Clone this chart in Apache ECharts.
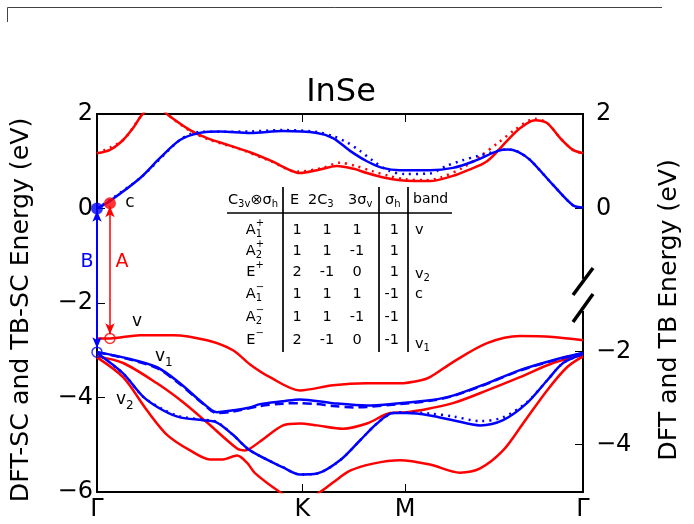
<!DOCTYPE html>
<html><head><meta charset="utf-8">
<script src="https://cdn.jsdelivr.net/npm/echarts@6/dist/echarts.min.js"></script>
<style>html,body{margin:0;padding:0;background:#fff}#c{width:694px;height:524px}</style>
</head><body><div id="c"></div>
<script>
// ---------- data ----------
const kPath = [0, 1, 1.5, 2.366];
const kLabels = ['Γ', 'K', 'M', 'Γ'];
const yLeftTicks = [2, 0, -2, -4, -6];
const yRightTickPos = [2, 0, -3.03, -4.99];
const yRightLabels = ['2', '0', '−2', '−4'];

// conduction bands
const redC = [[0,1.17],[0.063,1.24],[0.127,1.45],[0.175,1.70],[0.219,1.98],[0.28,2.22],[0.346,1.98],[0.453,1.66],[0.536,1.49],[0.648,1.33],[0.745,1.19],[0.857,0.99],[0.906,0.88],[0.988,0.75],[1.071,0.81],[1.168,0.90],[1.25,0.84],[1.314,0.75],[1.40,0.65],[1.475,0.60],[1.621,0.58],[1.733,0.69],[1.80,0.80],[1.899,1.0],[1.996,1.43],[2.059,1.70],[2.132,1.87],[2.191,1.81],[2.255,1.49],[2.317,1.24],[2.366,1.17]];
const redCdot = [[0,1.17],[0.127,1.45],[0.219,1.98],[0.28,2.22],[0.346,1.98],[0.453,1.64],[0.55,1.45],[0.70,1.25],[0.857,0.98],[0.97,0.78],[1.1,0.86],[1.18,0.97],[1.26,0.90],[1.34,0.79],[1.42,0.69],[1.5,0.62],[1.6,0.60],[1.67,0.65],[1.78,0.86],[1.87,1.12],[1.95,1.38],[2.03,1.65],[2.132,1.90],[2.191,1.81],[2.255,1.49],[2.317,1.24],[2.366,1.17]];
const blueC = [[0,0],[0.063,0.16],[0.209,0.64],[0.307,1.07],[0.404,1.45],[0.50,1.60],[0.60,1.63],[0.745,1.60],[0.906,1.64],[1.071,1.60],[1.149,1.49],[1.232,1.22],[1.314,1.0],[1.39,0.86],[1.475,0.81],[1.621,0.81],[1.733,0.86],[1.835,1.0],[1.952,1.22],[2.0,1.25],[2.05,1.20],[2.108,1.03],[2.22,0.50],[2.317,0.07],[2.366,0.02]];
const blueCdot = [[0,0],[0.209,0.64],[0.404,1.45],[0.50,1.62],[0.745,1.63],[0.906,1.66],[1.071,1.62],[1.149,1.53],[1.217,1.40],[1.28,1.22],[1.34,1.02],[1.42,0.80],[1.50,0.73],[1.62,0.74],[1.70,0.90],[1.78,1.02],[1.86,1.12],[1.952,1.22],[2.0,1.25],[2.05,1.20],[2.108,1.03],[2.22,0.50],[2.317,0.07],[2.366,0.02]];

// valence bands
const redV = [[0,-2.75],[0.063,-2.75],[0.209,-2.68],[0.37,-2.68],[0.536,-2.79],[0.662,-3.0],[0.745,-3.30],[0.842,-3.57],[0.988,-3.85],[1.149,-3.74],[1.314,-3.70],[1.475,-3.70],[1.573,-3.64],[1.621,-3.57],[1.733,-3.25],[1.899,-2.85],[2.059,-2.70],[2.22,-2.72],[2.366,-2.79]];
const blueV1 = [[0,-3.04],[0.127,-3.15],[0.292,-3.36],[0.404,-3.70],[0.516,-4.12],[0.584,-4.31],[0.662,-4.27],[0.745,-4.21],[0.794,-4.14],[0.906,-4.08],[0.988,-4.04],[1.149,-4.12],[1.314,-4.17],[1.475,-4.12],[1.621,-4.06],[1.733,-3.96],[1.899,-3.70],[2.059,-3.42],[2.22,-3.21],[2.366,-3.06]];
const blueV1dash = [[0,-3.04],[0.127,-3.16],[0.292,-3.38],[0.404,-3.72],[0.516,-4.13],[0.584,-4.33],[0.662,-4.30],[0.794,-4.18],[0.906,-4.13],[0.988,-4.12],[1.07,-4.14],[1.149,-4.18],[1.25,-4.21],[1.314,-4.20],[1.475,-4.14],[1.621,-4.07],[1.733,-3.97],[1.899,-3.71],[2.059,-3.43],[2.22,-3.22],[2.366,-3.06]];
const blueV2 = [[0,-3.06],[0.127,-3.49],[0.224,-3.98],[0.321,-4.27],[0.404,-4.42],[0.516,-4.48],[0.584,-4.53],[0.662,-4.79],[0.745,-5.12],[0.906,-5.48],[0.988,-5.63],[1.071,-5.61],[1.183,-5.33],[1.28,-4.91],[1.363,-4.55],[1.441,-4.33],[1.509,-4.33],[1.621,-4.38],[1.733,-4.48],[1.865,-4.59],[1.977,-4.48],[2.093,-4.12],[2.191,-3.64],[2.269,-3.27],[2.366,-3.08]];
const blueV2dot = [[0,-3.06],[0.127,-3.49],[0.224,-3.98],[0.321,-4.25],[0.404,-4.40],[0.516,-4.47],[0.584,-4.52],[0.662,-4.79],[0.745,-5.12],[0.906,-5.48],[0.988,-5.63],[1.071,-5.61],[1.183,-5.33],[1.28,-4.91],[1.363,-4.55],[1.441,-4.33],[1.509,-4.31],[1.621,-4.34],[1.733,-4.40],[1.865,-4.50],[1.977,-4.42],[2.093,-4.10],[2.191,-3.64],[2.269,-3.27],[2.366,-3.08]];
const redB = [[0,-3.13],[0.127,-3.27],[0.292,-3.70],[0.419,-4.10],[0.536,-4.53],[0.682,-5.08],[0.72,-5.12],[0.794,-4.93],[0.906,-4.59],[0.988,-4.55],[1.071,-4.59],[1.198,-4.66],[1.314,-4.55],[1.427,-4.33],[1.509,-4.31],[1.573,-4.27],[1.733,-4.12],[1.899,-3.85],[2.059,-3.57],[2.22,-3.27],[2.366,-3.10]];
const redD = [[0,-3.15],[0.127,-3.57],[0.243,-4.27],[0.341,-4.79],[0.453,-5.12],[0.55,-5.31],[0.613,-5.31],[0.682,-5.23],[0.73,-5.38],[0.769,-5.60],[0.89,-6.0],[0.988,-6.25],[1.086,-6.0],[1.149,-5.80],[1.232,-5.55],[1.344,-5.40],[1.475,-5.33],[1.621,-5.42],[1.767,-5.59],[1.865,-5.50],[1.977,-5.12],[2.074,-4.55],[2.191,-3.85],[2.288,-3.36],[2.366,-3.13]];

// gap markers
const redFilled = [[0.063, 0.11]];
const redOpen = [[0.063, -2.75]];
const blueFilled = [[0, 0]];
const blueOpen = [[0, -3.04]];
const arrowA = [[0.063, 0.05], [0.063, -2.66]];
const arrowB = [[0, -0.05], [0, -2.96]];

// character table
const tableHeader = ['E', '2C3', '3σv', 'σh', 'band'];
const tableE = ['1', '1', '2', '1', '1', '2'];
const table2C3 = ['1', '1', '-1', '1', '1', '-1'];
const table3sv = ['1', '-1', '0', '1', '-1', '0'];
const tableSh = ['1', '1', '1', '-1', '-1', '-1'];
const tableBand = ['v', '', 'v2', 'c', '', 'v1'];
const tableReps = [['A','1','+'],['A','2','+'],['E','','+'],['A','1','−'],['A','2','−'],['E','','−']];

// ---------- drawing ----------
const FONT = '"DejaVu Sans"';
const RED = '#ff0000', BLUE = '#0000ff';
const chart = echarts.init(document.getElementById('c'), null, {renderer: 'canvas'});

function band(data, color, dash, w) {
  return {type: 'line', data: data, showSymbol: false, smooth: 0.3, clip: true, silent: true,
    lineStyle: {color: color, width: w || 2.5, type: dash || 'solid'}, z: 2};
}
function pick(arr, labs, v) {
  for (let i = 0; i < arr.length; i++) if (Math.abs(arr[i] - v) < 1e-4) return labs[i];
  return '';
}

const mctx = document.createElement('canvas').getContext('2d');
function tw(t, s) { mctx.font = s + 'px ' + FONT; return mctx.measureText(t).width; }
function mtext(x, y, parts, S, color, align) {
  const els = [];
  const subS = Math.round(S * 0.7);
  let total = 0;
  const widths = parts.map(p => {
    let w;
    if (p[1] === 'n') w = tw(p[0], S);
    else if (p[1] === 'ss') w = Math.max(tw(p[0], subS), tw(p[2], subS));
    else w = tw(p[0], subS);
    total += w; return w;
  });
  let cx = align === 'center' ? x - total / 2 : (align === 'right' ? x - total : x);
  parts.forEach((p, i) => {
    const mk = (t, size, yy) => els.push({type: 'text', x: cx, y: yy, z: 50,
      style: {text: t, fill: color, font: size + 'px ' + FONT, align: 'left', verticalAlign: 'middle'}});
    if (p[1] === 'n') mk(p[0], S, y);
    else if (p[1] === 'sub') mk(p[0], subS, y + S * 0.32);
    else if (p[1] === 'sup') mk(p[0], subS, y - S * 0.45);
    else { if (p[0]) mk(p[0], subS, y + S * 0.32); mk(p[2], subS, y - S * 0.45); }
    cx += widths[i];
  });
  return els;
}

const graphics = [];
graphics.push({type: 'polyline', z: 50, shape: {points: [[7.5, 22], [7.5, 7.5], [662, 7.5]]},
  style: {stroke: '#444', lineWidth: 1, fill: null}});
graphics.push({type: 'text', x: 341, y: 93, z: 50, style: {text: 'InSe', font: '32px ' + FONT, fill: '#000', align: 'center', verticalAlign: 'middle'}});
graphics.push({type: 'text', x: 21, y: 310, rotation: Math.PI / 2, z: 50, style: {text: 'DFT-SC and TB-SC Energy (eV)', font: '25.2px ' + FONT, fill: '#000', align: 'center', verticalAlign: 'middle'}});
graphics.push({type: 'text', x: 669, y: 310, rotation: Math.PI / 2, z: 50, style: {text: 'DFT and TB Energy (eV)', font: '25.2px ' + FONT, fill: '#000', align: 'center', verticalAlign: 'middle'}});
graphics.push({type: 'rect', z: 60, shape: {x: 579, y: 279, width: 9, height: 32}, style: {fill: '#fff'}});
graphics.push({type: 'line', z: 61, shape: {x1: 573, y1: 295, x2: 593, y2: 268}, style: {stroke: '#000', lineWidth: 3.5}});
graphics.push({type: 'line', z: 61, shape: {x1: 573, y1: 322, x2: 593, y2: 294}, style: {stroke: '#000', lineWidth: 3.5}});

graphics.push(...mtext(130, 203, [['c', 'n']], 17, '#000', 'center'));
graphics.push(...mtext(137, 322, [['v', 'n']], 17, '#000', 'center'));
graphics.push(...mtext(155, 357, [['v', 'n'], ['1', 'sub']], 17, '#000', 'left'));
graphics.push(...mtext(116, 400, [['v', 'n'], ['2', 'sub']], 17, '#000', 'left'));
graphics.push({type: 'text', x: 122, y: 262, z: 50, style: {text: 'A', font: '19px ' + FONT, fill: RED, align: 'center', verticalAlign: 'middle'}});
graphics.push({type: 'text', x: 87, y: 262, z: 50, style: {text: 'B', font: '19px ' + FONT, fill: BLUE, align: 'center', verticalAlign: 'middle'}});

const TS = 14.5;
graphics.push({type: 'line', z: 50, shape: {x1: 227, y1: 213, x2: 452, y2: 213}, style: {stroke: '#000', lineWidth: 1.7}});
[283, 379, 408].forEach(x => graphics.push({type: 'line', z: 50, shape: {x1: x, y1: 187, x2: x, y2: 352}, style: {stroke: '#000', lineWidth: 1.7}}));
const hy = 200;
graphics.push(...mtext(228, hy, [['C', 'n'], ['3v', 'sub'], ['⊗', 'n'], ['σ', 'n'], ['h', 'sub']], TS, '#000', 'left'));
graphics.push(...mtext(290, hy, [[tableHeader[0], 'n']], TS, '#000', 'left'));
graphics.push(...mtext(308, hy, [['2C', 'n'], ['3', 'sub']], TS, '#000', 'left'));
graphics.push(...mtext(348, hy, [['3σ', 'n'], ['v', 'sub']], TS, '#000', 'left'));
graphics.push(...mtext(385, hy, [['σ', 'n'], ['h', 'sub']], TS, '#000', 'left'));
graphics.push(...mtext(413, hy - 1, [[tableHeader[4], 'n']], TS - 0.5, '#000', 'left'));
const rowY = [230, 251, 272, 294, 317, 340];
tableReps.forEach((r, i) => {
  graphics.push(...mtext(255, rowY[i], [[r[0], 'n'], [r[1], 'ss', r[2]]], TS, '#000', 'center'));
  graphics.push(...mtext(297, rowY[i], [[tableE[i], 'n']], TS, '#000', 'center'));
  graphics.push(...mtext(327, rowY[i], [[table2C3[i], 'n']], TS, '#000', 'center'));
  graphics.push(...mtext(357, rowY[i], [[table3sv[i], 'n']], TS, '#000', 'center'));
  graphics.push(...mtext(399, rowY[i], [[tableSh[i], 'n']], TS, '#000', 'right'));
  const b = tableBand[i];
  if (b) {
    const parts = b.length > 1 ? [[b[0], 'n'], [b.slice(1), 'sub']] : [[b, 'n']];
    const dy = i === 5 ? 4 : (i === 2 ? 2 : 0);
    graphics.push(...mtext(415, rowY[i] + dy, parts, TS, '#000', 'left'));
  }
});

const axisFont = {fontFamily: FONT, fontSize: 24, color: '#000'};
const tickStyle = {color: '#000', width: 1};
const option = {
  animation: false,
  backgroundColor: '#fff',
  grid: {left: 97, top: 114, width: 486, height: 378, show: true, borderColor: '#000', borderWidth: 2, backgroundColor: 'transparent'},
  xAxis: [
    {type: 'value', min: 0, max: kPath[kPath.length - 1], position: 'bottom', splitLine: {show: false}, axisLine: {show: false, onZero: false},
      axisTick: {show: true, inside: true, length: 8, customValues: [kPath[1], kPath[2]], lineStyle: tickStyle},
      axisLabel: Object.assign({customValues: kPath, margin: 6, showMinLabel: true, showMaxLabel: true,
        formatter: v => pick(kPath, kLabels, v)}, axisFont)},
    {type: 'value', min: 0, max: kPath[kPath.length - 1], position: 'top', splitLine: {show: false}, axisLine: {show: false, onZero: false},
      axisTick: {show: true, inside: true, length: 8, customValues: [kPath[1], kPath[2]], lineStyle: tickStyle},
      axisLabel: {show: false}}
  ],
  yAxis: [
    {type: 'value', min: -6, max: 2, interval: 2, position: 'left', splitLine: {show: false}, axisLine: {show: false, onZero: false},
      axisTick: {show: true, inside: true, length: 8, lineStyle: tickStyle},
      axisLabel: Object.assign({margin: 4, formatter: v => String(v).replace('-', '−')}, axisFont)},
    {type: 'value', min: -6, max: 2, position: 'right', splitLine: {show: false}, axisLine: {show: false, onZero: false},
      axisTick: {show: true, inside: true, length: 8, customValues: yRightTickPos, lineStyle: tickStyle},
      axisLabel: Object.assign({margin: 13, customValues: yRightTickPos, showMinLabel: true, showMaxLabel: true,
        formatter: v => pick(yRightTickPos, yRightLabels, v)}, axisFont)}
  ],
  series: [
    band(redC, RED), band(redCdot, RED, [2, 5], 2.5),
    band(redV, RED), band(redB, RED), band(redD, RED),
    band(blueC, BLUE), band(blueCdot, BLUE, [2, 5], 2.5),
    band(blueV1, BLUE), band(blueV1dash, BLUE, [9, 5], 2.5),
    band(blueV2, BLUE), band(blueV2dot, BLUE, [2, 5], 2.5),
    {type: 'line', data: arrowA, showSymbol: false, clip: false, silent: true, lineStyle: {opacity: 0},
      markLine: {silent: true, symbol: ['arrow', 'arrow'], symbolSize: [7, 11], label: {show: false},
        lineStyle: {color: RED, width: 1.5, type: 'solid'}, data: [[{coord: arrowA[0]}, {coord: arrowA[1]}]]}, z: 5},
    {type: 'line', data: arrowB, showSymbol: false, clip: false, silent: true, lineStyle: {opacity: 0},
      markLine: {silent: true, symbol: ['arrow', 'arrow'], symbolSize: [7, 11], label: {show: false},
        lineStyle: {color: BLUE, width: 2, type: 'solid'}, data: [[{coord: arrowB[0]}, {coord: arrowB[1]}]]}, z: 5},
    {type: 'scatter', data: redFilled, symbol: 'circle', symbolSize: 12, clip: false, silent: true, itemStyle: {color: RED}, z: 6},
    {type: 'scatter', data: blueFilled, symbol: 'circle', symbolSize: 12, clip: false, silent: true, itemStyle: {color: BLUE}, z: 6},
    {type: 'scatter', data: redOpen, symbol: 'circle', symbolSize: 10, clip: false, silent: true, itemStyle: {color: 'rgba(0,0,0,0)', borderColor: RED, borderWidth: 1.5}, z: 6},
    {type: 'scatter', data: blueOpen, symbol: 'circle', symbolSize: 10, clip: false, silent: true, itemStyle: {color: 'rgba(0,0,0,0)', borderColor: BLUE, borderWidth: 1.5}, z: 6}
  ],
  graphic: {elements: graphics}
};
chart.setOption(option);
</script></body></html>
